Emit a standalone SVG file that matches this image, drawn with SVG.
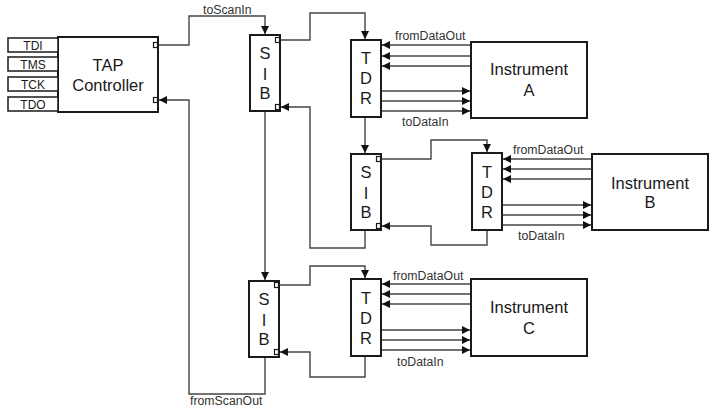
<svg xmlns="http://www.w3.org/2000/svg" width="715" height="408" viewBox="0 0 715 408">
<defs>
<style>
.box{fill:#fff;stroke:#1a1a1a;stroke-width:2}
.pin{fill:#fff;stroke:#1a1a1a;stroke-width:1.5}
.port{fill:#fff;stroke:#1a1a1a;stroke-width:1.2}
.wire{fill:none;stroke:#444;stroke-width:1.4}
.big{font-family:"Liberation Sans",Arial,sans-serif;font-size:16.5px;fill:#1a1a1a;text-anchor:middle}
.lbl{font-family:"Liberation Sans",Arial,sans-serif;font-size:12.3px;fill:#333}
.pinl{font-family:"Liberation Sans",Arial,sans-serif;font-size:12px;fill:#1a1a1a;text-anchor:middle}
</style>
<marker id="ah" viewBox="0 0 10 10" refX="10" refY="5" markerWidth="9" markerHeight="8" markerUnits="userSpaceOnUse" orient="auto">
<path d="M0,0 L10,5 L0,10 Z" fill="#111"/>
</marker>
</defs>

<g id="connectors">
<path class="wire" d="M158,45 H189 V16 H265 V34" marker-end="url(#ah)"/>
<path class="wire" d="M280,40 H310 V13 H365 V39" marker-end="url(#ah)"/>
<path class="wire" d="M365,117 V153" marker-end="url(#ah)"/>
<path class="wire" d="M381,159 H431 V140 H487 V152" marker-end="url(#ah)"/>
<path class="wire" d="M487,230 V245 H431 V226 H382" marker-end="url(#ah)"/>
<path class="wire" d="M365,230 V248 H310 V107 H281" marker-end="url(#ah)"/>
<path class="wire" d="M265,111 V280" marker-end="url(#ah)"/>
<path class="wire" d="M279,285 H310 V266 H365 V278" marker-end="url(#ah)"/>
<path class="wire" d="M365,356 V377 H310 V352 H280" marker-end="url(#ah)"/>
<path class="wire" d="M265,357 V394 H189 V100 H159" marker-end="url(#ah)"/>
<!-- TDR1 / Instrument A -->
<path class="wire" d="M471,45 H382" marker-end="url(#ah)"/>
<path class="wire" d="M471,56 H382" marker-end="url(#ah)"/>
<path class="wire" d="M471,66 H382" marker-end="url(#ah)"/>
<path class="wire" d="M381,91 H470" marker-end="url(#ah)"/>
<path class="wire" d="M381,101 H470" marker-end="url(#ah)"/>
<path class="wire" d="M381,111 H470" marker-end="url(#ah)"/>
<!-- TDR2 / Instrument B -->
<path class="wire" d="M592,159 H503" marker-end="url(#ah)"/>
<path class="wire" d="M592,169 H503" marker-end="url(#ah)"/>
<path class="wire" d="M592,179 H503" marker-end="url(#ah)"/>
<path class="wire" d="M502,205 H591" marker-end="url(#ah)"/>
<path class="wire" d="M502,215 H591" marker-end="url(#ah)"/>
<path class="wire" d="M502,225 H591" marker-end="url(#ah)"/>
<!-- TDR3 / Instrument C -->
<path class="wire" d="M471,284 H382" marker-end="url(#ah)"/>
<path class="wire" d="M471,294 H382" marker-end="url(#ah)"/>
<path class="wire" d="M471,304 H382" marker-end="url(#ah)"/>
<path class="wire" d="M381,330 H470" marker-end="url(#ah)"/>
<path class="wire" d="M381,340 H470" marker-end="url(#ah)"/>
<path class="wire" d="M381,350 H470" marker-end="url(#ah)"/>
<text class="lbl" x="203" y="14">toScanIn</text>
<text class="lbl" x="190" y="405">fromScanOut</text>
<text class="lbl" x="395" y="40">fromDataOut</text>
<text class="lbl" x="402" y="126">toDataIn</text>
<text class="lbl" x="513" y="154">fromDataOut</text>
<text class="lbl" x="518" y="240">toDataIn</text>
<text class="lbl" x="393" y="280">fromDataOut</text>
<text class="lbl" x="397" y="366">toDataIn</text>
</g>

<g id="tap">
<rect class="box" x="58" y="37" width="100" height="75"/>
<rect class="pin" x="8" y="38" width="50" height="14"/>
<rect class="pin" x="8" y="57" width="50" height="14"/>
<rect class="pin" x="8" y="77" width="50" height="14"/>
<rect class="pin" x="8" y="97" width="50" height="14"/>
<text class="pinl" x="33" y="49.5">TDI</text>
<text class="pinl" x="33" y="68.5">TMS</text>
<text class="pinl" x="33" y="88.5">TCK</text>
<text class="pinl" x="33" y="108.5">TDO</text>
<rect class="port" x="153.5" y="42.5" width="4" height="5"/>
<rect class="port" x="153.5" y="97.5" width="4" height="5"/>
<text class="big" x="108" y="71">TAP</text>
<text class="big" x="108" y="91">Controller</text>
</g>

<g id="sib1">
<rect class="box" x="250" y="35" width="30" height="76"/>
<rect class="port" x="275.5" y="37.5" width="4" height="5"/>
<rect class="port" x="275.5" y="104.5" width="4" height="5"/>
<text class="big" x="265" y="59">S</text>
<text class="big" x="265" y="80">I</text>
<text class="big" x="265" y="99">B</text>
</g>

<g id="tdr1">
<rect class="box" x="351" y="40" width="30" height="77"/>
<text class="big" x="366" y="64">T</text>
<text class="big" x="366" y="84">D</text>
<text class="big" x="366" y="104">R</text>
</g>

<g id="instA">
<rect class="box" x="471" y="42" width="116" height="76"/>
<text class="big" x="529" y="75">Instrument</text>
<text class="big" x="529" y="96">A</text>
</g>

<g id="sib2">
<rect class="box" x="351" y="154" width="30" height="76"/>
<rect class="port" x="376.5" y="156.5" width="4" height="5"/>
<rect class="port" x="376.5" y="223.5" width="4" height="5"/>
<text class="big" x="366" y="178">S</text>
<text class="big" x="366" y="199">I</text>
<text class="big" x="366" y="218">B</text>
</g>

<g id="tdr2">
<rect class="box" x="472" y="153" width="30" height="77"/>
<text class="big" x="487" y="178">T</text>
<text class="big" x="487" y="198">D</text>
<text class="big" x="487" y="218">R</text>
</g>

<g id="instB">
<rect class="box" x="592" y="154" width="116" height="76"/>
<text class="big" x="650" y="189">Instrument</text>
<text class="big" x="650" y="208">B</text>
</g>

<g id="sib3">
<rect class="box" x="249" y="281" width="30" height="76"/>
<rect class="port" x="274.5" y="282.5" width="4" height="5"/>
<rect class="port" x="274.5" y="349.5" width="4" height="5"/>
<text class="big" x="264" y="305">S</text>
<text class="big" x="264" y="326">I</text>
<text class="big" x="264" y="345">B</text>
</g>

<g id="tdr3">
<rect class="box" x="351" y="279" width="30" height="77"/>
<text class="big" x="366" y="304">T</text>
<text class="big" x="366" y="324">D</text>
<text class="big" x="366" y="344">R</text>
</g>

<g id="instC">
<rect class="box" x="471" y="279" width="116" height="77"/>
<text class="big" x="529" y="313">Instrument</text>
<text class="big" x="529" y="334">C</text>
</g>
</svg>
